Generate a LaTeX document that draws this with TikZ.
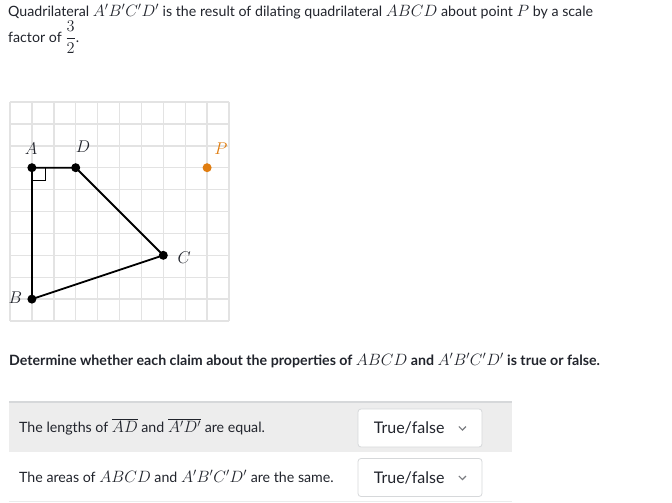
\RequirePackage{fix-cm}
\documentclass[tikz,border=0pt]{standalone}
\usepackage{fontspec}
\setmainfont{Lato}
\usetikzlibrary{positioning}
\definecolor{testo}{HTML}{21242C}
\definecolor{arancio}{HTML}{E07D10}
\definecolor{griglia}{HTML}{E3E3E3}
\definecolor{fondo}{HTML}{EDEDED}
\definecolor{bordo}{HTML}{D6D8DA}
\newcommand{\km}[1]{{\fontsize{16.4}{20}\selectfont$#1$}}
\begin{document}
\begin{tikzpicture}[x=1pt, y=-1pt,
    testo/.style={anchor=base west, inner sep=0pt, text=testo, font=\fontsize{14.2}{17}\selectfont},
    punto/.style={circle, fill=black, minimum size=9pt, inner sep=0pt},
    etichetta/.style={inner sep=0pt, text=testo, font=\fontsize{17}{20}\selectfont},
    lato/.style={line width=1.8pt, line join=round},
    tendina/.style={draw=bordo, fill=white, rounded corners=3pt, minimum width=124pt, minimum height=38pt, line width=0.8pt}]
    \useasboundingbox (0,0) rectangle (672,503);

    % Testo della domanda
    \node[testo] (riga1) at (8,16.5) {Quadrilateral \km{A'B'C'D'} is the result of dilating quadrilateral \km{ABCD} about point \km{P} by a scale};
    \node[testo] (riga2) at (8,42.5) {factor of \km{\displaystyle\frac{3}{2}}.};

    % Griglia
    \begin{scope}[shift={(10,321)}, x=21.9pt, y=21.9pt]
        \foreach \i in {0,...,10} {
            \draw[griglia, line width=1.4pt] (\i,0) -- (\i,10);
            \draw[griglia, line width=1.4pt] (0,\i) -- (10,\i);
        }

        % Vertici
        \coordinate (A) at (1,7);
        \coordinate (B) at (1,1);
        \coordinate (C) at (7,3);
        \coordinate (D) at (3,7);
        \coordinate (P) at (9,7);

        % Lati
        \draw[lato] (A) -- (D) -- (C) -- (B) -- cycle;
        \draw[line width=0.8pt] ([xshift=13pt]A) |- ([yshift=-13pt]A);

        % Punti
        \node[punto] (pA) at (A) {};
        \node[punto] (pB) at (B) {};
        \node[punto] (pC) at (C) {};
        \node[punto] (pD) at (D) {};
        \node[punto, fill=arancio] (pP) at (P) {};

        % Etichette
        \node[etichetta] (lA) at (0.96,7.85) {$A$};
        \node[etichetta] (lD) at (3.33,7.95) {$D$};
        \node[etichetta, text=arancio] (lP) at (9.63,7.85) {$P$};
        \node[etichetta] (lC) at (7.95,2.88) {$C$};
        \node[etichetta] (lB) at (0.25,1.05) {$B$};
    \end{scope}

    % Consegna
    \node[testo, font=\fontsize{14.2}{17}\selectfont\bfseries] (consegna) at (9,365) {Determine whether each claim about the properties of \km{ABCD} and \km{A'B'C'D'} is true or false.};

    % Tabella
    \fill[fondo] (9,402) rectangle (512,452);
    \draw[bordo, line width=2pt] (9,402) -- (512,402);
    \draw[bordo!50, line width=1pt] (9,501) -- (512,501);

    \node[testo] (r1) at (19,432) {The lengths of \km{\overline{AD}} and \km{\overline{A'D'}} are equal.};
    \node[testo] (r2) at (19,482) {The areas of \km{ABCD} and \km{A'B'C'D'} are the same.};

    % Menu a tendina
    \node[tendina] (t1) at (420,428) {};
    \node[tendina] (t2) at (420,477.5) {};
    \node[testo, anchor=west, font=\fontsize{16}{19}\selectfont] (v1) at ([xshift=16pt]t1.west) {True/false};
    \node[testo, anchor=west, font=\fontsize{16}{19}\selectfont] (v2) at ([xshift=16pt]t2.west) {True/false};
    \draw[testo!60, line width=1.2pt] ([shift={(-23.5,-1.5)}]t1.east) -- ++(3.5,3.5) -- ++(3.5,-3.5);
    \draw[testo!60, line width=1.2pt] ([shift={(-23.5,-1.5)}]t2.east) -- ++(3.5,3.5) -- ++(3.5,-3.5);
\end{tikzpicture}
\end{document}
